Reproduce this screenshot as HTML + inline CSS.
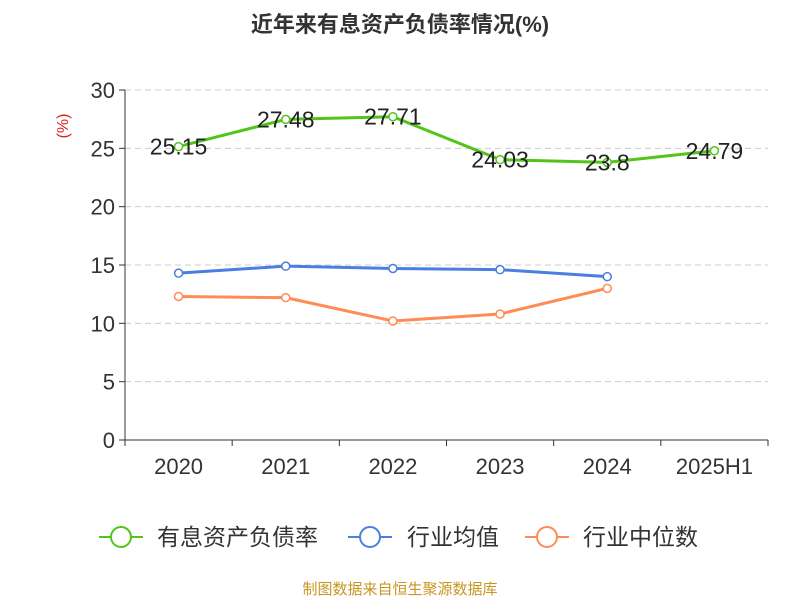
<!DOCTYPE html>
<html><head><meta charset="utf-8"><style>
body{margin:0;background:#fff;width:800px;height:600px;overflow:hidden;font-family:"Liberation Sans","Noto Sans CJK SC",sans-serif;}
</style></head><body>
<svg id="chart" width="800" height="600" style="font-family:'Liberation Sans','Noto Sans CJK SC',sans-serif">
<text x="400" y="32" text-anchor="middle" font-size="22" font-weight="bold" fill="#333">近年来有息资产负债率情况(%)</text>
<text x="68" y="126" text-anchor="middle" font-size="16" fill="#e02020" transform="rotate(-90 68 126)">(%)</text>
<g id="grid"></g><g id="axes"></g><g id="series"></g>
<g>
<g><line x1="99" y1="537" x2="143" y2="537" stroke="#52c41a" stroke-width="2"/><circle cx="121" cy="537" r="10" fill="#fff" stroke="#52c41a" stroke-width="2"/><text x="157" y="545" font-size="23" fill="#333">有息资产负债率</text></g>
<g><line x1="348" y1="537" x2="392" y2="537" stroke="#4a7fe0" stroke-width="2"/><circle cx="370" cy="537" r="10" fill="#fff" stroke="#4a7fe0" stroke-width="2"/><text x="407" y="545" font-size="23" fill="#333">行业均值</text></g>
<g><line x1="525" y1="537" x2="569" y2="537" stroke="#ff8c55" stroke-width="2"/><circle cx="547" cy="537" r="10" fill="#fff" stroke="#ff8c55" stroke-width="2"/><text x="583" y="545" font-size="23" fill="#333">行业中位数</text></g>
</g>
<text x="400" y="594" text-anchor="middle" font-size="15" fill="#c8961e">制图数据来自恒生聚源数据库</text>
</svg>
<script>
const categories=["2020","2021","2022","2023","2024","2025H1"];
const debtRatio=[25.15,27.48,27.71,24.03,23.8,24.79];
const industryAvg=[14.3,14.9,14.7,14.6,14.0];
const industryMedian=[12.3,12.2,10.2,10.8,13.0];
const yTicks=[0,5,10,15,20,25,30];
const NS="http://www.w3.org/2000/svg";
const x0=125,x1=768,yb=440,yt=90,ymax=30;
const bw=(x1-x0)/categories.length;
const X=i=>x0+bw*(i+0.5);
const Y=v=>yb-(v/ymax)*(yb-yt);
function mk(t,a,p){const e=document.createElementNS(NS,t);for(const k in a)e.setAttribute(k,a[k]);p.appendChild(e);return e;}
const grid=document.getElementById('grid'),axes=document.getElementById('axes'),ser=document.getElementById('series');
yTicks.forEach(v=>{
 if(v>0){const g=mk('line',{x1:x0,x2:x1,y1:Y(v),y2:Y(v),stroke:'#ccc','stroke-dasharray':'6,4'},grid);
 
 }
 const tk=mk('line',{x1:x0-6,x2:x0,y1:Y(v),y2:Y(v),stroke:'#333'},axes);
 
 
 const t=mk('text',{x:x0-10,y:Y(v)+8,'text-anchor':'end','font-size':22,fill:'#333'},axes);t.textContent=v;
 
 
});
const ya=mk('line',{x1:x0,x2:x0,y1:yt,y2:yb,stroke:'#333'},axes);


const xa=mk('line',{x1:x0,x2:x1,y1:yb,y2:yb,stroke:'#333'},axes);


for(let i=0;i<=categories.length;i++){const l=mk('line',{x1:x0+bw*i,x2:x0+bw*i,y1:yb,y2:yb+6,stroke:'#333'},axes);
 
 }
categories.forEach((c,i)=>{const t=mk('text',{x:X(i),y:yb+34,'text-anchor':'middle','font-size':22,fill:'#333'},axes);t.textContent=c;
 
 });
function series(vals,color,name,labels){
 const g=mk('g',{},ser);
 
 
 const pl=mk('polyline',{points:vals.map((v,i)=>X(i)+','+Y(v)).join(' '),fill:'none',stroke:color,'stroke-width':3},g);
 
 
 vals.forEach((v,i)=>{const c=mk('circle',{cx:X(i),cy:Y(v),r:4,fill:'#fff',stroke:color,'stroke-width':1.5},g);
  
  
  if(labels){const t=mk('text',{x:X(i),y:Y(v)+8,'text-anchor':'middle','font-size':23,fill:'#222'},g);t.textContent=v;
  
  }
 });
}
series(industryAvg,'#4a7fe0','industry-average-series',false);
series(industryMedian,'#ff8c55','industry-median-series',false);
series(debtRatio,'#52c41a','debt-ratio-series',true);
</script>
</body></html>
